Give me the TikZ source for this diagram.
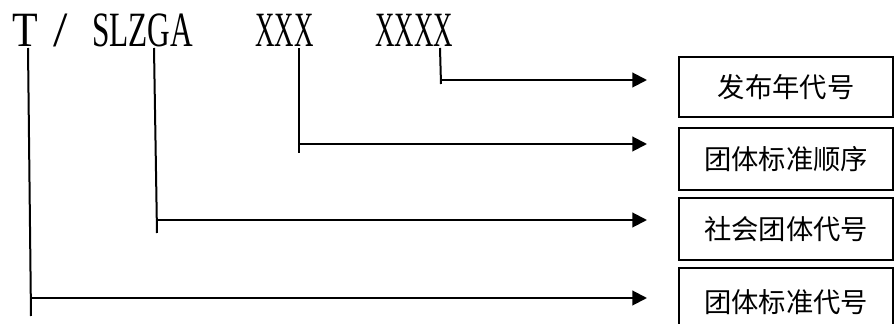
\documentclass[tikz,border=0pt]{standalone}
\usepackage{fontspec}
\usepackage{graphicx}
\newfontfamily\cjk{Noto Sans CJK SC}
\newfontfamily\code{Liberation Serif}
\usetikzlibrary{arrows.meta}
\tikzstyle{code}=[inner sep=0pt, anchor=base west, font=\code\fontsize{37pt}{37pt}\selectfont]
\tikzstyle{box}=[draw, line width=1.5pt, minimum width=160.5pt, inner sep=0pt, font=\cjk\fontsize{20.5pt}{20.5pt}\selectfont]
\tikzstyle{line}=[draw=black, line width=1.5pt]
\tikzstyle{arrow}=[draw=black, line width=1.5pt, -{Triangle[length=11pt, width=11pt]}]
\newcommand{\narrow}[2][0.545]{\scalebox{#1}[1]{#2}}

\begin{document}
\begin{tikzpicture}[x=0.75pt, y=-0.75pt]
		   \useasboundingbox (0,0) rectangle (894,324);
		   \clip (0,0) rectangle (894,324);
		   \begin{scope}
			   \node (T) at (12,47)[code] {\narrow[0.85]{T}};
			   \node (slash) at (53,47)[code] {\narrow[1.05]{/}};
			   \node (SLZGA) at (92,47)[code] {\narrow[0.635]{SLZGA}};
			   \node (XXX) at (255,47)[code] {\narrow{XXX}};
			   \node (XXXX) at (375,47)[code] {\narrow{XXXX}};

			   \node (year) at (786,87)[box, minimum height=45pt] {发布年代号};
			   \node (order) at (786,159)[box, minimum height=46.5pt] {团体标准顺序};
			   \node (group) at (786,229)[box, minimum height=46.5pt] {社会团体代号};
			   \node (std) at (786,302)[box, minimum height=51pt] {团体标准代号};

			   \coordinate (tip) at (647,0);
			   \coordinate (T top) at (28,48);
			   \coordinate (T bot) at (31,316);
			   \coordinate (T mid) at (31,298);
			   \coordinate (S top) at (154,48);
			   \coordinate (S bot) at (157,233);
			   \coordinate (S mid) at (157,220);
			   \coordinate (X top) at (299,48);
			   \coordinate (X bot) at (299,153);
			   \coordinate (X mid) at (299,144);
			   \coordinate (Y top) at (440,48);
			   \coordinate (Y bot) at (441,84);
			   \coordinate (Y mid) at (441,80);
		   \end{scope}
		   \begin{scope}
			   \path [line] (T top) -- (T bot);
			   \path [line] (S top) -- (S bot);
			   \path [line] (X top) -- (X bot);
			   \path [line] (Y top) -- (Y bot);

			   \path [arrow] (T mid) -- (T mid -| tip);
			   \path [arrow] (S mid) -- (S mid -| tip);
			   \path [arrow] (X mid) -- (X mid -| tip);
			   \path [arrow] (Y mid) -- (Y mid -| tip);
		   \end{scope}
	   \end{tikzpicture}
\end{document}
